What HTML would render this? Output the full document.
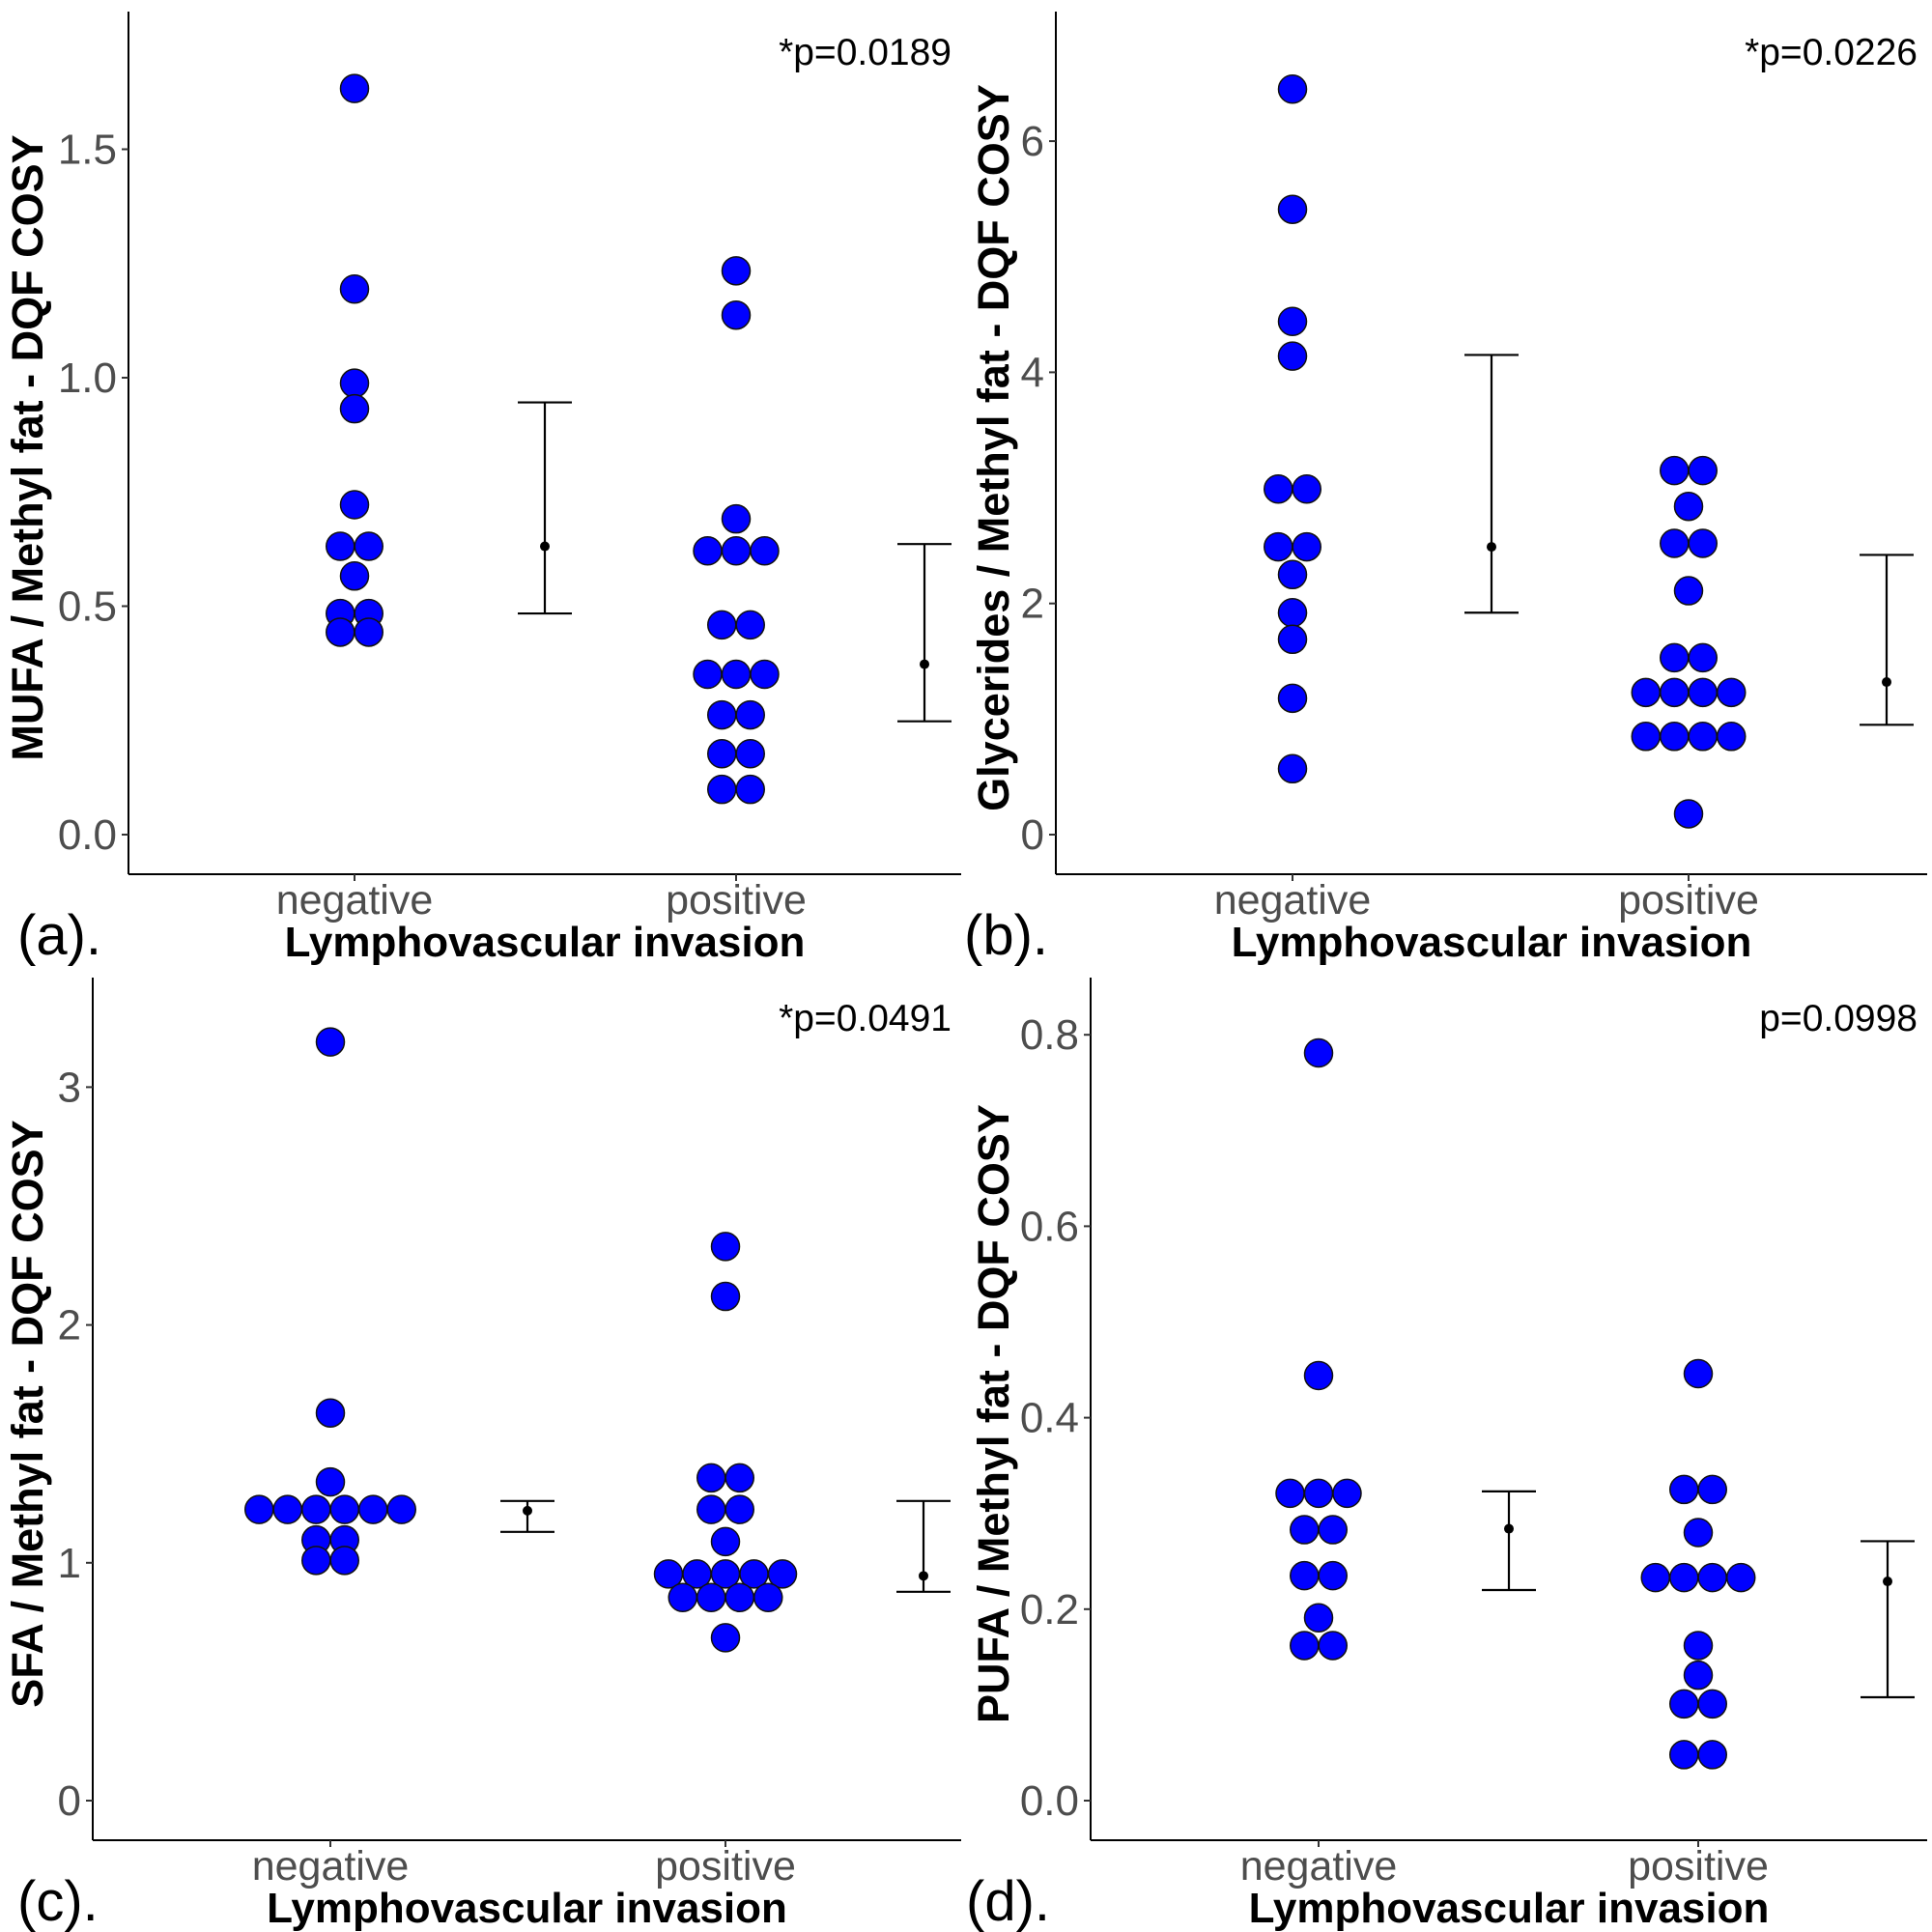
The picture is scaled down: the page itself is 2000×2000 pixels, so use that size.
<!DOCTYPE html>
<html><head><meta charset="utf-8">
<style>
html,body{margin:0;padding:0;background:#fff;}
svg{display:block;}
text{font-family:"Liberation Sans",Arial,sans-serif;}
</style></head>
<body>
<svg id="fig" width="2000" height="2000" viewBox="0 0 2000 2000" xmlns="http://www.w3.org/2000/svg"></svg>
<script>
// Panel (a) MUFA
const aNeg = [1.633,1.194,0.988,0.932,0.722,0.631,0.631,0.566,0.484,0.484,0.443,0.443];
const aPos = [1.234,1.137,0.691,0.621,0.621,0.621,0.459,0.459,0.351,0.351,0.351,0.262,0.262,0.177,0.177,0.099,0.099];
const aErr = [[0.484,0.631,0.946],[0.248,0.373,0.636]];
const aTicks = [0,0.5,1.0,1.5];
const aTickLabels = ["0.0","0.5","1.0","1.5"];
// Panel (b) Glycerides
const bNeg = [6.45,5.41,4.44,4.14,2.99,2.99,2.49,2.49,2.25,1.92,1.69,1.18,0.57];
const bPos = [3.15,3.15,2.84,2.52,2.52,2.11,1.53,1.53,1.23,1.23,1.23,1.23,0.85,0.85,0.85,0.85,0.18];
const bErr = [[1.92,2.49,4.15],[0.95,1.32,2.42]];
const bTicks = [0,2,4,6];
const bTickLabels = ["0","2","4","6"];
// Panel (c) SFA
const cNeg = [3.19,1.63,1.34,1.224,1.224,1.224,1.224,1.224,1.224,1.096,1.096,1.01,1.01];
const cPos = [2.33,2.12,1.357,1.357,1.224,1.224,1.089,0.953,0.953,0.953,0.953,0.953,0.854,0.854,0.854,0.854,0.685];
const cErr = [[1.13,1.219,1.26],[0.878,0.945,1.26]];
const cTicks = [0,1,2,3];
const cTickLabels = ["0","1","2","3"];
// Panel (d) PUFA
const dNeg = [0.781,0.444,0.321,0.321,0.321,0.283,0.283,0.235,0.235,0.191,0.162,0.162];
const dPos = [0.446,0.325,0.325,0.280,0.233,0.233,0.233,0.233,0.162,0.131,0.101,0.101,0.048,0.048];
const dErr = [[0.220,0.284,0.323],[0.108,0.229,0.271]];
const dTicks = [0,0.2,0.4,0.6,0.8];
const dTickLabels = ["0.0","0.2","0.4","0.6","0.8"];
const groups = ["negative","positive"];

const NS="http://www.w3.org/2000/svg";
const svg=document.getElementById('fig');
function mk(tag,attrs,parent){const e=document.createElementNS(NS,tag);for(const k in attrs)e.setAttribute(k,attrs[k]);(parent||svg).appendChild(e);return e;}

function panel(cfg){
  const g=mk('g',{});
  
  
  const y=v=>cfg.y0-(v)*cfg.pxPerUnit;
  const ya=mk('line',{x1:cfg.ax,y1:cfg.top,x2:cfg.ax,y2:cfg.bottom,stroke:'#000','stroke-width':2},g);
  
  
  const xa=mk('line',{x1:cfg.ax,y1:cfg.bottom,x2:cfg.right,y2:cfg.bottom,stroke:'#000','stroke-width':2},g);
  
  
  cfg.ticks.forEach((t,i)=>{
    const tl=mk('line',{x1:cfg.ax-7,y1:y(t),x2:cfg.ax,y2:y(t),stroke:'#333','stroke-width':2},g);
    
    
    const tx=mk('text',{x:cfg.ax-12,y:y(t)+15,'text-anchor':'end','font-size':44,fill:'#4d4d4d'},g);
    tx.textContent=cfg.tickLabels[i];
    
    
  });
  [cfg.negX,cfg.posX].forEach((x,i)=>{
    const tl=mk('line',{x1:x,y1:cfg.bottom,x2:x,y2:cfg.bottom+7,stroke:'#333','stroke-width':2},g);
    
    
    const tx=mk('text',{x:x,y:cfg.bottom+41,'text-anchor':'middle','font-size':43,fill:'#4d4d4d'},g);
    tx.textContent=groups[i];
    
    
  });
  const xt=mk('text',{x:(cfg.ax+cfg.right)/2,y:cfg.bottom+85,'text-anchor':'middle','font-size':44,'font-weight':'bold',fill:'#000'},g);
  xt.textContent='Lymphovascular invasion';
  
  
  const ytc=(cfg.top+cfg.bottom)/2+5;
  const yt=mk('text',{x:cfg.ytX,y:ytc,'text-anchor':'middle','font-size':45,'font-weight':'bold',fill:'#000',transform:`rotate(-90 ${cfg.ytX} ${ytc})`},g);
  yt.textContent=cfg.ytitle;
  
  
  const lab=mk('text',{x:cfg.labX,y:cfg.bottom+83,'font-size':58,fill:'#000'},g);
  lab.textContent='('+cfg.id+').';
  
  
  const pv=mk('text',{x:cfg.right-10,y:cfg.top+55,'text-anchor':'end','font-size':39,fill:'#000'},g);
  pv.textContent=cfg.p;
  
  
  const slot=29.5;
  [[cfg.neg,cfg.negX,'negative'],[cfg.pos,cfg.posX,'positive']].forEach(([vals,cx,gname])=>{
    const rows=[];
    vals.forEach(v=>{let r=rows.find(r=>Math.abs(r.v-v)<1e-9);if(!r){r={v:v,n:0};rows.push(r);}r.n++;});
    rows.forEach(r=>{
      for(let k=0;k<r.n;k++){
        const off=(k-(r.n-1)/2)*slot;
        const c=mk('circle',{cx:cx+off,cy:y(r.v),r:14.5,fill:'#0000ff',stroke:'#111','stroke-width':1.5},g);
        
        
      }
    });
  });
  [[cfg.err[0],cfg.errX[0]],[cfg.err[1],cfg.errX[1]]].forEach(([e,x],i)=>{
    const eg=mk('g',{},g);
    
    
    mk('line',{x1:x,y1:y(e[0]),x2:x,y2:y(e[2]),stroke:'#000','stroke-width':2.2},eg);
    mk('line',{x1:x-28,y1:y(e[0]),x2:x+28,y2:y(e[0]),stroke:'#000','stroke-width':2.2},eg);
    mk('line',{x1:x-28,y1:y(e[2]),x2:x+28,y2:y(e[2]),stroke:'#000','stroke-width':2.2},eg);
    mk('circle',{cx:x,cy:y(e[1]),r:5,fill:'#000'},eg);
  });
}

panel({id:'a',ax:133,top:12,bottom:905,right:995,y0:864,pxPerUnit:473,negX:367,posX:762,errX:[564,957],labX:18,
  ticks:aTicks,tickLabels:aTickLabels,neg:aNeg,pos:aPos,err:aErr,p:'*p=0.0189',ytX:44,ytitle:'MUFA / Methyl fat - DQF COSY'});
panel({id:'b',ax:1093,top:12,bottom:905,right:1995,y0:864,pxPerUnit:119.65,negX:1338,posX:1748,errX:[1544,1953],labX:998,
  ticks:bTicks,tickLabels:bTickLabels,neg:bNeg,pos:bPos,err:bErr,p:'*p=0.0226',ytX:1044,ytitle:'Glycerides / Methyl fat - DQF COSY'});
panel({id:'c',ax:96,top:1012,bottom:1905,right:995,y0:1864,pxPerUnit:246.2,negX:342,posX:751,errX:[546,956],labX:18,
  ticks:cTicks,tickLabels:cTickLabels,neg:cNeg,pos:cPos,err:cErr,p:'*p=0.0491',ytX:44,ytitle:'SFA / Methyl fat - DQF COSY'});
panel({id:'d',ax:1129,top:1012,bottom:1905,right:1995,y0:1864,pxPerUnit:991,negX:1365,posX:1758,errX:[1562,1954],labX:1000,
  ticks:dTicks,tickLabels:dTickLabels,neg:dNeg,pos:dPos,err:dErr,p:'p=0.0998',ytX:1044,ytitle:'PUFA / Methyl fat - DQF COSY'});
</script>
</body></html>
